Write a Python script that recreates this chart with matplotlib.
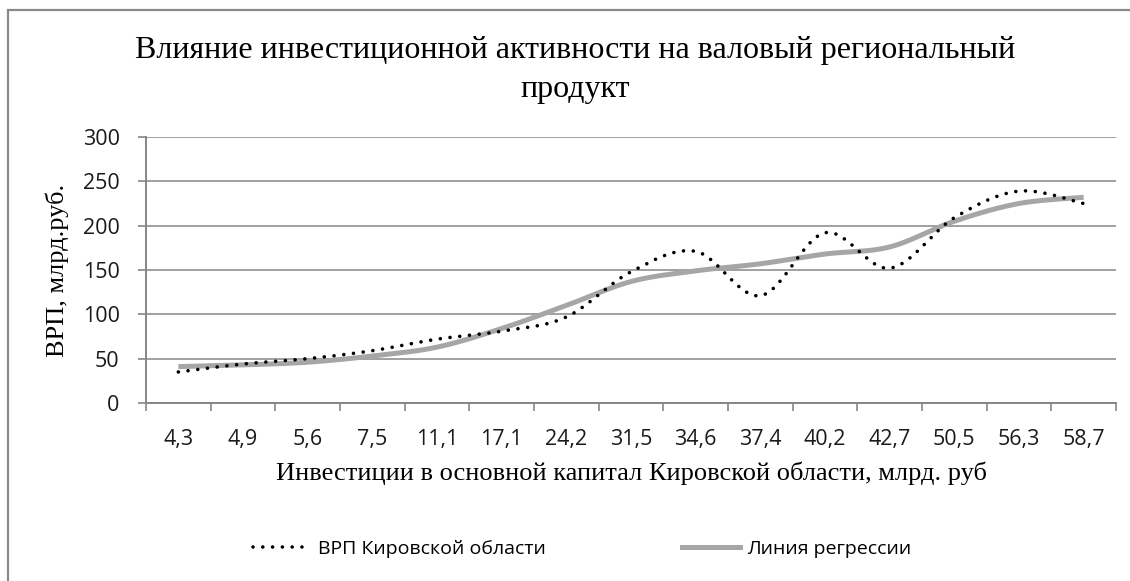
import numpy as np
import matplotlib
matplotlib.use("Agg")
import matplotlib.pyplot as plt
from matplotlib.lines import Line2D
from matplotlib.patches import Rectangle

categories = ["4,3", "4,9", "5,6", "7,5", "11,1", "17,1", "24,2", "31,5",
              "34,6", "37,4", "40,2", "42,7", "50,5", "56,3", "58,7"]
vrp = [35, 44, 50, 59, 72, 81, 97, 148, 171, 121, 192, 152, 209, 239, 225]
regression = [41, 43, 46, 53, 63, 84, 110, 137, 149, 157, 168, 176, 205, 225, 232]

title = "Влияние инвестиционной активности на валовый региональный\nпродукт"
xlabel = "Инвестиции в основной капитал Кировской области, млрд. руб"
ylabel = "ВРП, млрд.руб."
series_names = ["ВРП Кировской области", "Линия регрессии"]

SERIF = "Liberation Serif"
SANS = "Open Sans"


def smooth(y, n=30):
    """Catmull-Rom smoothing like Excel's smoothed lines."""
    y = np.asarray(y, float)
    x = np.arange(len(y), dtype=float)
    P = np.column_stack([x, y])
    P = np.vstack([P[0], P, P[-1]])
    out = []
    t = np.linspace(0, 1, n, endpoint=False)
    for i in range(1, len(P) - 2):
        p0, p1, p2, p3 = P[i - 1], P[i], P[i + 1], P[i + 2]
        c1 = p1 + (p2 - p0) / 6
        c2 = p2 - (p3 - p1) / 6
        tt = t[:, None]
        seg = ((1 - tt) ** 3 * p1 + 3 * (1 - tt) ** 2 * tt * c1
               + 3 * (1 - tt) * tt ** 2 * c2 + tt ** 3 * p2)
        out.append(seg)
    out.append(P[-2][None, :])
    out = np.vstack(out)
    return out[:, 0], out[:, 1]


fig = plt.figure(figsize=(11.30, 5.81), dpi=100)
W, H = 1130, 581
ax = fig.add_axes([146 / W, 1 - 403 / H, (1116 - 146) / W, (403 - 137) / H])

grid_c = "#868686"
ax.set_xlim(-0.5, len(categories) - 0.5)
ax.set_ylim(0, 300)
ax.set_yticks(range(0, 301, 50))
ax.yaxis.grid(True, color=grid_c, linewidth=1.1)
ax.set_axisbelow(True)

for s in ["top", "right"]:
    ax.spines[s].set_visible(False)
for s in ["left", "bottom"]:
    ax.spines[s].set_color(grid_c)
    ax.spines[s].set_linewidth(1.4)

ax.set_xticks(range(len(categories)))
ax.set_xticklabels(categories, fontfamily=SANS, fontsize=15.5, color="#1a1a1a")
ax.set_xticks(np.arange(-0.5, len(categories)), minor=True)
ax.tick_params(axis="x", which="major", length=0, pad=19)
ax.tick_params(axis="x", which="minor", length=6, width=1.2, color=grid_c, direction="out")
ax.tick_params(axis="y", length=6, width=1.2, color=grid_c, direction="out", pad=13)
for lab in ax.get_yticklabels():
    lab.set_fontfamily(SANS)
    lab.set_fontsize(15.5)
    lab.set_color("#1a1a1a")

xs, ys = smooth(vrp)
xr, yr = smooth(regression)
ax.plot(xr, yr, color="#A6A6A6", linewidth=3.6, solid_capstyle="butt", zorder=2)
ax.plot(xs, ys, color="black", linewidth=2.6, linestyle=(0, (0.01, 2.7)),
        dash_capstyle="round", zorder=3)

ax.set_xlabel(xlabel, fontfamily=SERIF, fontsize=19)
ax.set_ylabel(ylabel, fontfamily=SERIF, fontsize=19)
ax.yaxis.set_label_coords(-(146 - 57) / (1116 - 146), 0.5)
ax.xaxis.set_label_coords(0.5, -(473 - 403) / (403 - 137))
ax.xaxis.label.set_verticalalignment("center")
ax.yaxis.label.set_verticalalignment("center")

fig.text(575 / W, 1 - 70 / H, title, ha="center", va="center",
         fontfamily=SERIF, fontsize=23, linespacing=1.45)

handles = [
    Line2D([], [], color="black", linewidth=2.6, linestyle=(0, (0.01, 2.7)),
           dash_capstyle="round"),
    Line2D([], [], color="#A6A6A6", linewidth=3.6),
]
fig.legend(handles, series_names, loc="center", bbox_to_anchor=(582 / W, 1 - 549 / H),
           ncol=2, frameon=False, prop={"family": SANS, "size": 14},
           handlelength=3.0, handletextpad=0.35, columnspacing=7.0)

fig.patches.append(Rectangle((8 / W, -0.1), 1.2, 1 - 10 / H + 0.1,
                             transform=fig.transFigure, fill=False,
                             edgecolor="#898989", linewidth=1.6))

fig.savefig("out.png", dpi=100)
